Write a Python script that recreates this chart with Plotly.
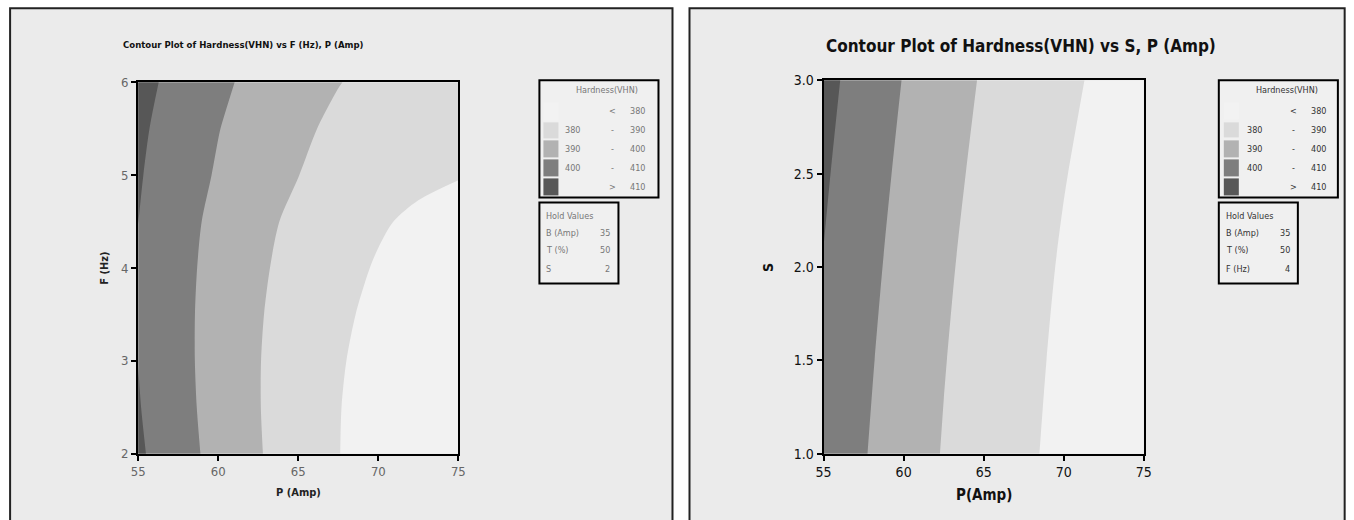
import plotly.graph_objects as go

# ---------------- data ----------------
P_AMP = [55, 57.5, 60, 62.5, 65, 67.5, 70, 72.5, 75]
F_HZ = [2, 2.5, 3, 3.5, 4, 4.5, 5, 5.5, 6]
S_VAL = [1.0, 1.5, 2.0, 2.5, 3.0]

# Hardness (VHN) vs P (columns) and F (rows), hold S = 2
HARD_F_2 = [411.48, 403.85, 396.91, 390.65, 385.08, 380.20, 376.01, 372.50, 369.68]
HARD_F_25 = [410.54, 403.12, 396.39, 390.35, 384.99, 380.32, 376.34, 373.05, 370.44]
HARD_F_3 = [409.92, 402.71, 396.20, 390.36, 385.22, 380.76, 377.00, 373.91, 371.52]
HARD_F_35 = [409.63, 402.64, 396.33, 390.71, 385.78, 381.54, 377.98, 375.11, 372.93]
HARD_F_4 = [409.66, 402.88, 396.79, 391.38, 386.66, 382.63, 379.29, 376.63, 374.66]
HARD_F_45 = [410.02, 403.45, 397.57, 392.38, 387.87, 384.05, 380.92, 378.48, 376.72]
HARD_F_5 = [410.80, 404.59, 399.08, 394.24, 390.10, 386.64, 383.88, 381.79, 380.40]
HARD_F_55 = [411.71, 405.64, 400.26, 395.57, 391.56, 388.24, 385.61, 383.67, 382.41]
HARD_F_6 = [413.04, 407.11, 401.87, 397.31, 393.44, 390.26, 387.77, 385.96, 384.84]

# Hardness (VHN) vs P (columns) and S (rows), hold F = 4
HARD_S_10 = [407.13, 400.57, 394.71, 389.52, 385.03, 381.22, 378.11, 375.67, 373.93]
HARD_S_15 = [408.31, 401.64, 395.66, 390.37, 385.76, 381.84, 378.61, 376.07, 374.21]
HARD_S_20 = [409.66, 402.88, 396.79, 391.38, 386.66, 382.63, 379.29, 376.63, 374.66]
HARD_S_25 = [411.19, 404.32, 398.14, 392.65, 387.84, 383.72, 380.29, 377.55, 375.49]
HARD_S_30 = [412.89, 405.93, 399.67, 394.08, 389.19, 384.98, 381.47, 378.63, 376.49]

LEVEL_START, LEVEL_END, LEVEL_STEP = 380, 410, 10
BAND_COLORS = ["#f2f2f2", "#dadada", "#b2b2b2", "#7e7e7e", "#575757"]
LEGEND_LEFT = ["", "380", "390", "400", ""]
LEGEND_MID = ["<", "-", "-", "-", ">"]
LEGEND_RIGHT = ["380", "390", "400", "410", "410"]
HOLD_LEFT = [("B (Amp)", "35"), ("T (%)", "50"), ("S", "2")]
HOLD_RIGHT = [("B (Amp)", "35"), ("T (%)", "50"), ("F (Hz)", "4")]

TITLE_LEFT = "Contour Plot of Hardness(VHN) vs F (Hz), P (Amp)"
TITLE_RIGHT = "Contour Plot of Hardness(VHN) vs S, P (Amp)"

W, H = 1354, 520
# the page shows the figure after an 8px body margin, scaled a little into the shot
OFF = 8
KX, KY = 1371 / 1354, 537 / 520
FONT = "DejaVu Sans Condensed, Liberation Sans Narrow, Liberation Sans, Arial, sans-serif"


def px(x):
    return (x * KX - OFF) / W


def py(y):
    return 1 - (y * KY - OFF) / H


colorscale = [[i / (len(BAND_COLORS) - 1), c] for i, c in enumerate(BAND_COLORS)]
contours = dict(start=LEVEL_START, end=LEVEL_END, size=LEVEL_STEP, coloring="fill", showlines=False)

fig = go.Figure()
fig.add_trace(go.Contour(
    x=P_AMP, y=F_HZ,
    z=[HARD_F_2, HARD_F_25, HARD_F_3, HARD_F_35, HARD_F_4, HARD_F_45, HARD_F_5, HARD_F_55, HARD_F_6],
    colorscale=colorscale, contours=contours, autocontour=False, showscale=False,
    line=dict(width=0, smoothing=0.8), hoverinfo="skip", xaxis="x", yaxis="y"))
fig.add_trace(go.Contour(
    x=P_AMP, y=S_VAL,
    z=[HARD_S_10, HARD_S_15, HARD_S_20, HARD_S_25, HARD_S_30],
    colorscale=colorscale, contours=contours, autocontour=False, showscale=False,
    line=dict(width=0, smoothing=0.8), hoverinfo="skip", xaxis="x2", yaxis="y2"))

ax_common = dict(showline=True, mirror=True, linecolor="black", linewidth=2,
                 ticks="outside", ticklen=5, tickwidth=1.5, tickcolor="black",
                 showgrid=False, zeroline=False)

shapes = []
annotations = []

# panels
for x0, x1 in [(10, 672), (689, 1352)]:
    shapes.append(dict(type="rect", xref="paper", yref="paper", x0=px(x0), x1=min(px(x1), 0.999),
                       y0=-0.05, y1=py(8), fillcolor="#ebebeb",
                       line=dict(color="#222222", width=2), layer="below"))


def ann(text, x, y, size, color, xanchor="center", **kw):
    annotations.append(dict(text=text, x=px(x), y=py(y), xref="paper", yref="paper",
                            xanchor=xanchor, yanchor="middle", showarrow=False,
                            font=dict(family=FONT, size=size, color=color), **kw))


# titles
ann("<b>" + TITLE_LEFT + "</b>", 243, 44, 9.5, "#111111")
ann("<b>" + TITLE_RIGHT + "</b>", 1020, 46, 17, "#111111")

# axis titles
ann("<b>P (Amp)</b>", 298, 492, 11, "#222222")
ann("<b>F (Hz)</b>", 104, 268, 11, "#222222", textangle=-90)
ann("<b>P(Amp)</b>", 983, 494, 15, "#111111")
ann("<b>S</b>", 768, 267, 14, "#111111", textangle=-90)


def add_legend(bx, sw_x, col1, col2, col3, tcolor, hold_rows, rows_y):
    shapes.append(dict(type="rect", xref="paper", yref="paper", x0=px(bx), x1=px(bx + 119),
                       y0=py(197), y1=py(80), fillcolor="#f0f0f0", line=dict(color="black", width=2)))
    ann("Hardness(VHN)", bx + 68, 90, 9, tcolor)
    for i, (y0, y1) in enumerate(rows_y):
        shapes.append(dict(type="rect", xref="paper", yref="paper", x0=px(sw_x), x1=px(sw_x + 15),
                           y0=py(y1), y1=py(y0), fillcolor=BAND_COLORS[i], line=dict(width=0)))
        yc = (y0 + y1) / 2
        if LEGEND_LEFT[i]:
            ann(LEGEND_LEFT[i], col1, yc, 9, tcolor)
        ann(LEGEND_MID[i], col2, yc, 9, tcolor)
        ann(LEGEND_RIGHT[i], col3, yc, 9, tcolor)
    shapes.append(dict(type="rect", xref="paper", yref="paper", x0=px(bx), x1=px(bx + 79),
                       y0=py(283), y1=py(202), fillcolor="#f0f0f0", line=dict(color="black", width=2)))
    ann("Hold Values", bx + 5, 216, 9, tcolor, xanchor="left")
    for j, (lab, val) in enumerate(hold_rows):
        yy = [233, 250, 269][j]
        ann(lab, bx + 5, yy, 9, tcolor, xanchor="left")
        ann(val, bx + 73, yy, 9, tcolor, xanchor="right")


add_legend(539, 543, 572, 612, 637, "#777777", HOLD_LEFT,
           [(102, 120), (122, 138), (140, 157), (159, 176), (178, 195)])
add_legend(1218, 1223, 1254, 1293, 1318, "#333333", HOLD_RIGHT,
           [(102, 119), (122, 137), (140, 157), (159, 176), (178, 195)])

fig.update_layout(
    width=W, height=H, margin=dict(l=0, r=0, t=0, b=0),
    paper_bgcolor="white", plot_bgcolor="#f4f4f4", showlegend=False,
    xaxis=dict(domain=[px(138), px(458)], range=[55, 75], tickvals=[55, 60, 65, 70, 75],
               tickfont=dict(family=FONT, size=13, color="#666666"), anchor="y", **ax_common),
    yaxis=dict(domain=[py(453), py(82)], range=[2, 6], tickvals=[2, 3, 4, 5, 6],
               tickfont=dict(family=FONT, size=13, color="#666666"), anchor="x", **ax_common),
    xaxis2=dict(domain=[px(823), px(1143)], range=[55, 75], tickvals=[55, 60, 65, 70, 75],
                tickfont=dict(family=FONT, size=14, color="#111111"), anchor="y2", **ax_common),
    yaxis2=dict(domain=[py(453), py(80)], range=[1, 3], tickvals=[1.0, 1.5, 2.0, 2.5, 3.0],
                tickformat=".1f", tickfont=dict(family=FONT, size=14, color="#111111"), anchor="x2", **ax_common),
    shapes=shapes, annotations=annotations,
)

fig.write_html("out.html")
